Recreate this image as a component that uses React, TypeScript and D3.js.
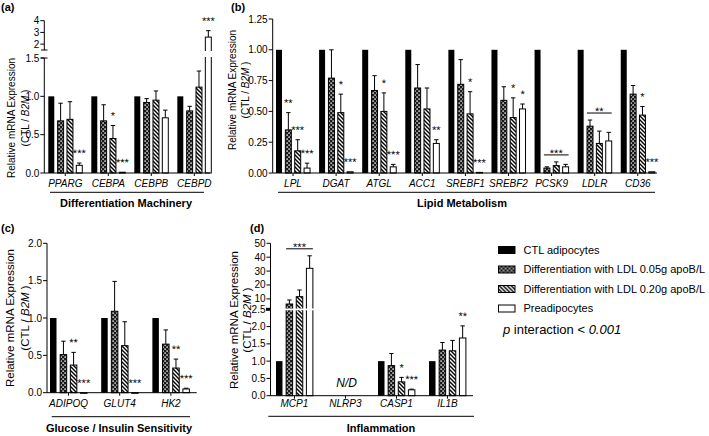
import React from "react";
import * as d3 from "d3";

const FONT = "Arial, 'Liberation Sans', Helvetica, sans-serif";

const seriesNames = [
  "CTL adipocytes",
  "Differentiation with LDL 0.05g apoB/L",
  "Differentiation with LDL 0.20g apoB/L",
  "Preadipocytes",
];
const seriesFills = ["#000000", "url(#checker)", "url(#hatch)", "#ffffff"];

// (a) Differentiation Machinery
const aGenes = ["PPARG", "CEBPA", "CEBPB", "CEBPD"];
const aMeans = [[1, 0.68, 0.7, 0.1], [1, 0.68, 0.45, 0.01], [1, 0.92, 0.95, 0.72], [1, 0.81, 1.12, 2.6]];
const aErrors = [[0, 0.23, 0.23, 0.03], [0, 0.21, 0.17, 0], [0, 0.05, 0.12, 0.1], [0, 0.06, 0.21, 0.55]];
const aStars = [["", "", "", "***"], ["", "", "*", "***"], ["", "", "", ""], ["", "", "", "***"]];
const aLowTicks = [0, 0.5, 1, 1.5];
const aHighTicks = [2, 3, 4];

// (b) Lipid Metabolism
const bGenes = ["LPL", "DGAT", "ATGL", "ACC1", "SREBF1", "SREBF2", "PCSK9", "LDLR", "CD36"];
const bMeans = [
  [1, 0.35, 0.18, 0.04], [1, 0.77, 0.49, 0.01], [1, 0.67, 0.5, 0.05], [1, 0.69, 0.52, 0.24],
  [1, 0.72, 0.48, 0.005], [1, 0.59, 0.45, 0.52], [1, 0.04, 0.06, 0.05], [1, 0.38, 0.24, 0.26],
  [1, 0.64, 0.47, 0.01],
];
const bErrors = [
  [0, 0.14, 0.09, 0.04], [0, 0.23, 0.15, 0], [0, 0.12, 0.15, 0.02], [0, 0.19, 0.17, 0.03],
  [0, 0.2, 0.18, 0], [0, 0.11, 0.16, 0.04], [0, 0.01, 0.03, 0.02], [0, 0.05, 0.1, 0.07],
  [0, 0.07, 0.07, 0],
];
const bStars = [
  ["", "**", "***", "***"], ["", "", "*", "***"], ["", "", "*", "***"], ["", "", "", "**"],
  ["", "", "*", "***"], ["", "", "*", "*"], ["", "", "", ""], ["", "", "", ""], ["", "", "*", "***"],
];
const bBrackets = [{ gene: 6, label: "***" }, { gene: 7, label: "**" }];
const bTicks = [0, 0.25, 0.5, 0.75, 1, 1.25];

// (c) Glucose / Insulin Sensitivity
const cGenes = ["ADIPOQ", "GLUT4", "HK2"];
const cMeans = [[1, 0.51, 0.37, 0], [1, 1.09, 0.63, 0], [1, 0.65, 0.33, 0.05]];
const cErrors = [[0, 0.18, 0.17, 0], [0, 0.4, 0.32, 0], [0, 0.19, 0.12, 0.01]];
const cStars = [["", "", "**", "***"], ["", "", "", "***"], ["", "", "**", "***"]];
const cTicks = [0, 0.5, 1, 1.5, 2];

// (d) Inflammation
const dGenes = ["MCP1", "NLRP3", "CASP1", "IL1B"];
const dMeans = [[1, 6.3, 11.6, 32], [NaN, NaN, NaN, NaN], [1, 0.87, 0.4, 0.17], [1, 1.32, 1.3, 1.67]];
const dErrors = [[0, 2.9, 4.8, 9], [0, 0, 0, 0], [0, 0.35, 0.13, 0.02], [0, 0.22, 0.3, 0.35]];
const dStars = [["", "", "", ""], ["", "", "", ""], ["", "", "*", "***"], ["", "", "", "**"]];
const dBrackets = [{ gene: 0, label: "***" }];
const dLowTicks = [0, 0.5, 1, 1.5, 2, 2.5];
const dHighTicks = [10, 20, 30, 40, 50];

type Bracket = { gene: number; label: string };

// asterisks drawn with a tiny rotation so they get grayscale antialiasing
function Star({ x, y, label }: any) {
  return (
    <text transform={`translate(${x},${y}) rotate(0.2)`} textAnchor="middle" fontSize={11} fill="#000">
      {label}
    </text>
  );
}

function Bars({ genes, means, errors, stars, brackets = [], range, padInner, y, y0, labelY }: any) {
  const x0 = d3.scaleBand<string>().domain(genes).range(range).paddingInner(padInner).paddingOuter(0);
  const x1 = d3.scaleBand<number>().domain([0, 1, 2, 3]).range([0, x0.bandwidth()]).paddingInner(0.36);
  const bw = x1.bandwidth();
  return (
    <g>
      {genes.map((g: string, gi: number) => (
        <g key={g}>
          {means[gi].map((m: number, si: number) => {
            if (isNaN(m)) return null;
            const left = (x0(g) as number) + (x1(si) as number);
            const cx = left + bw / 2;
            const top = y(m);
            const err = errors[gi][si];
            const et = y(m + err);
            return (
              <g key={si}>
                {err > 0 && (
                  <g stroke="#000" strokeWidth={1}>
                    <line x1={cx} x2={cx} y1={top} y2={et} />
                    <line x1={cx - 2.2} x2={cx + 2.2} y1={et} y2={et} />
                  </g>
                )}
                <rect x={left} y={top} width={bw} height={Math.max(y0 - top, 0.6)}
                  fill={seriesFills[si]} stroke="#000" strokeWidth={si === 0 ? 0 : 1} />
                {stars[gi][si] && <Star x={cx} y={et - 6} label={stars[gi][si]} />}
              </g>
            );
          })}
          <line x1={(x0(g) as number) + x0.bandwidth() / 2} x2={(x0(g) as number) + x0.bandwidth() / 2}
            y1={y0} y2={y0 + 3} stroke="#000" />
          <text x={(x0(g) as number) + x0.bandwidth() / 2} y={labelY} textAnchor="middle"
            fontSize={10} fontStyle="italic">{g}</text>
        </g>
      ))}
      {brackets.map((b: Bracket) => {
        const g = genes[b.gene];
        const xa = (x0(g) as number) + (x1(1) as number);
        const xb = (x0(g) as number) + (x1(3) as number) + bw;
        const topV = d3.max([1, 2, 3], (i) => means[b.gene][i] + errors[b.gene][i]) as number;
        const ly = y(topV) - 7;
        return (
          <g key={g}>
            <line x1={xa} x2={xb} y1={ly} y2={ly} stroke="#000" />
            <Star x={(xa + xb) / 2} y={ly + 2} label={b.label} />
          </g>
        );
      })}
    </g>
  );
}

function YAxis({ x, segments, ticks, y, fmt }: any) {
  return (
    <g>
      {segments.map((s: number[], i: number) => (
        <line key={i} x1={x} x2={x} y1={s[0]} y2={s[1]} stroke="#000" />
      ))}
      {ticks.map((t: number) => (
        <g key={t}>
          <line x1={x - 4} x2={x} y1={y(t)} y2={y(t)} stroke="#000" />
          <text x={x - 5} y={y(t)} dy="0.35em" textAnchor="end" fontSize={10}>{fmt(t)}</text>
        </g>
      ))}
    </g>
  );
}

function YTitle({ x1, x2, cy, size }: any) {
  return (
    <g fontSize={size}>
      <text transform={`translate(${x1},${cy}) rotate(-90)`} dy="0.35em" textAnchor="middle">
        Relative mRNA Expression
      </text>
      <text transform={`translate(${x2},${cy}) rotate(-90)`} dy="0.35em" textAnchor="middle">
        (CTL / <tspan fontStyle="italic">B2M</tspan> )
      </text>
    </g>
  );
}

export default function App() {
  const yALow = d3.scaleLinear().domain([0, 1.5]).range([173, 58]);
  const yAHigh = d3.scaleLinear().domain([1.5, 4]).range([50, 20.7]);
  const yA = (v: number) => (v <= 1.5 ? yALow(v) : yAHigh(v));
  const yB = d3.scaleLinear().domain([0, 1.25]).range([173, 19]);
  const yC = d3.scaleLinear().domain([0, 2]).range([392.7, 243.3]);
  const yD = d3.scaleLinear().domain([0, 2.5, 50]).range([395.7, 309.3, 243.3]);
  const f1 = d3.format(".1f");
  const f2 = d3.format(".2f");
  const fd = d3.format("d");

  return (
    <svg width={709} height={436} style={{ position: "absolute", left: 0, top: 0, background: "#fff" }}
      fontFamily={FONT}>
      <defs>
        <pattern id="checker" width={4} height={4} patternUnits="userSpaceOnUse">
          <rect width={4} height={4} fill="#1a1a1a" />
          <rect x={0.4} y={0.4} width={1.4} height={1.4} fill="#fff" />
          <rect x={2.4} y={2.4} width={1.4} height={1.4} fill="#fff" />
        </pattern>
        <pattern id="hatch" width={4} height={4} patternUnits="userSpaceOnUse">
          <rect width={4} height={4} fill="#fff" />
          <path d="M-1,-1 L5,5 M-1,3 L1,5 M3,-1 L5,1" stroke="#000" strokeWidth={1.4} />
        </pattern>
      </defs>
      <g fill="#000">
        <rect width={709} height={436} fill="#fff" />

        {/* (a) */}
        <text x={1} y={11} fontSize={11} fontWeight="bold">(a)</text>
        <Bars genes={aGenes} means={aMeans} errors={aErrors} stars={aStars}
          range={[48.3, 211.3]} padInner={0.21} y={yA} y0={173} labelY={186.5} />
        <rect x={45} y={51} width={175} height={6} fill="#fff" />
        <YAxis x={44.3} segments={[[20.7, 50], [58, 173]]} ticks={aLowTicks} y={yALow} fmt={f1} />
        <YAxis x={44.3} segments={[]} ticks={aHighTicks} y={yAHigh} fmt={fd} />
        <line x1={41} x2={47.5} y1={50} y2={50} stroke="#000" />
        <line x1={41} x2={47.5} y1={58} y2={58} stroke="#000" />
        <line x1={44.3} x2={210} y1={173} y2={173} stroke="#000" />
        <YTitle x1={11.7} x2={25.5} cy={118} size={10} />
        <line x1={50} x2={204} y1={192.3} y2={192.3} stroke="#000" />
        <text x={126} y={207} textAnchor="middle" fontSize={11} fontWeight="bold">Differentiation Machinery</text>

        {/* (b) */}
        <text x={231} y={11} fontSize={11} fontWeight="bold">(b)</text>
        <Bars genes={bGenes} means={bMeans} errors={bErrors} stars={bStars} brackets={bBrackets}
          range={[276, 654.8]} padInner={0.21} y={yB} y0={173} labelY={186.5} />
        <YAxis x={272.7} segments={[[19, 173]]} ticks={bTicks} y={yB} fmt={f2} />
        <line x1={272.7} x2={657} y1={173} y2={173} stroke="#000" />
        <YTitle x1={232} x2={245} cy={90} size={10} />
        <line x1={278} x2={655} y1={192.3} y2={192.3} stroke="#000" />
        <text x={462} y={207} textAnchor="middle" fontSize={11} fontWeight="bold">Lipid Metabolism</text>

        {/* (c) */}
        <text x={1} y={232} fontSize={11} fontWeight="bold">(c)</text>
        <Bars genes={cGenes} means={cMeans} errors={cErrors} stars={cStars}
          range={[50, 189.4]} padInner={0.277} y={yC} y0={392.7} labelY={407} />
        <YAxis x={47} segments={[[243.3, 392.7]]} ticks={cTicks} y={yC} fmt={f1} />
        <line x1={47} x2={196.7} y1={392.7} y2={392.7} stroke="#000" />
        <YTitle x1={10} x2={24.5} cy={318} size={11.5} />
        <line x1={51.7} x2={190} y1={416.7} y2={416.7} stroke="#000" />
        <text x={119} y={432} textAnchor="middle" fontSize={11} fontWeight="bold">Glucose / Insulin Sensitivity</text>

        {/* (d) */}
        <text x={250} y={232} fontSize={11} fontWeight="bold">(d)</text>
        <Bars genes={dGenes} means={dMeans} errors={dErrors} stars={dStars} brackets={dBrackets}
          range={[276, 465.9]} padInner={0.277} y={yD} y0={395.7} labelY={407} />
        <rect x={271.5} y={yD(2.5) - 0.8} width={45} height={1.8} fill="#fff" />
        <YAxis x={270.5} segments={[[243.3, 395.7]]} ticks={dLowTicks} y={yD} fmt={f1} />
        <YAxis x={270.5} segments={[]} ticks={dHighTicks} y={yD} fmt={fd} />
        <rect x={266} y={yD(2.5) - 1.5} width={5} height={3} fill="#000" />
        <line x1={270.5} x2={473} y1={395.7} y2={395.7} stroke="#000" />
        <text x={346.7} y={387} textAnchor="middle" fontSize={12} fontStyle="italic">N/D</text>
        <YTitle x1={233.5} x2={246.5} cy={320} size={11.5} />
        <line x1={268.3} x2={474} y1={416.3} y2={416.3} stroke="#000" />
        <text x={381} y={432} textAnchor="middle" fontSize={11} fontWeight="bold">Inflammation</text>

        {/* legend */}
        {seriesNames.map((s, i) => (
          <g key={s} transform={`translate(498.5,${250 + i * 19.5})`}>
            <rect x={0} y={-3.5} width={16.5} height={7} fill={seriesFills[i]} stroke="#000" strokeWidth={1} />
            <text x={25} y={0} dy="0.35em" fontSize={11}>{s}</text>
          </g>
        ))}
        <text x={503} y={329} dy="0.35em" fontSize={13}>
          <tspan fontStyle="italic">p</tspan> interaction &lt; <tspan fontStyle="italic">0.001</tspan>
        </text>
      </g>
    </svg>
  );
}
